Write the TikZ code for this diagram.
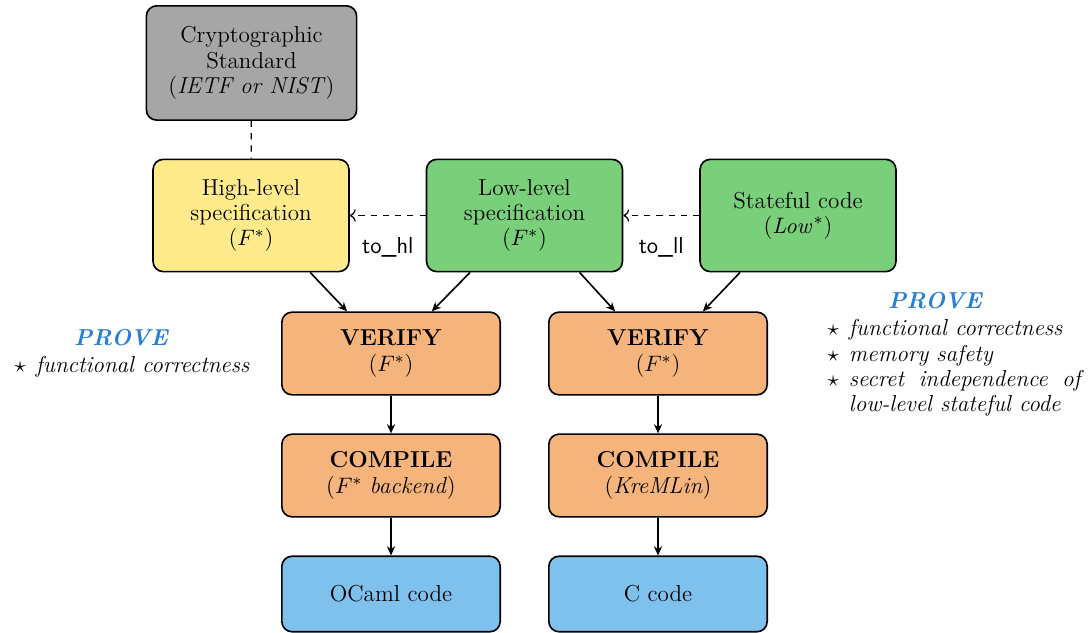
\documentclass[tikz,border=0pt]{standalone}
\usepackage{tikz}
\usetikzlibrary{positioning,arrows.meta}

\definecolor{stdgray}{HTML}{A6A6A6}
\definecolor{hlyellow}{HTML}{FFEB8C}
\definecolor{llgreen}{HTML}{7ACF7B}
\definecolor{toolorange}{HTML}{F4B47C}
\definecolor{codeblue}{HTML}{7EC1EC}
\definecolor{provecol}{HTML}{2A7FD4}

\newcommand{\diagfont}{\fontsize{11.3}{12.4}\selectfont}
\newenvironment{provelist}{\begin{list}{$\star$}{\setlength\leftmargin{14pt}\setlength\labelwidth{8pt}\setlength\labelsep{5pt}\setlength\itemsep{0pt}\setlength\parsep{0pt}\setlength\topsep{0pt}\setlength\partopsep{0pt}}}{\end{list}}

\begin{document}
\begin{tikzpicture}[x=0.49pt, y=-0.49pt,
	box/.style={draw, thick, rounded corners=5pt, align=center, inner sep=2pt, font=\diagfont},
	spec/.style={box, minimum width=96pt, minimum height=55pt},
	tool/.style={box, fill=toolorange, minimum width=107pt, minimum height=40.5pt},
	codebox/.style={box, fill=codeblue, minimum width=107pt, minimum height=37pt},
	flow/.style={-{Stealth[length=4.5pt, width=4pt]}, thick},
	conv/.style={->, semithick, dashed},
	provetitle/.style={text=provecol, font=\diagfont\bfseries\itshape},
	provetext/.style={inner sep=0pt, anchor=north west, align=justify, font=\diagfont\itshape}]
	\useasboundingbox (0,0) rectangle (1089,633);

	% Specs
	\node [box, fill=stdgray, minimum width=103pt, minimum height=56pt] (std) at (251.5,63) {Cryptographic\\Standard\\(\textit{IETF or NIST})};
	\node [spec, fill=hlyellow] (hl) at (251,215.5) {High-level\\specification\\($F^*$)};
	\node [spec, fill=llgreen] (ll) at (524.5,215.5) {Low-level\\specification\\($F^*$)};
	\node [spec, fill=llgreen] (low) at (798,215.5) {Stateful code\\($\mathit{Low}^*$)};

	\draw [semithick, dashed] (std) -- (hl);
	\draw [conv] (ll) -- (hl) node[midway, below=7pt, font=\diagfont] {\textsf{to\_hl}};
	\draw [conv] (low) -- (ll) node[midway, below=7pt, font=\diagfont] {\textsf{to\_ll}};

	% Toolchains
	\node [tool] (verhl) at (391,353.5) {\textbf{VERIFY}\\($F^*$)};
	\node [tool] (verll) at (658,353.5) {\textbf{VERIFY}\\($F^*$)};
	\node [tool] (comphl) at (391,475.5) {\textbf{COMPILE}\\($F^*$ \textit{backend})};
	\node [tool] (compll) at (658,475.5) {\textbf{COMPILE}\\(\textit{KreMLin})};
	\node [codebox] (ocaml) at (391,594) {OCaml code};
	\node [codebox] (ccode) at (658,594) {C code};

	\draw [flow] ([xshift=29pt]hl.south) -- ([xshift=-21.5pt]verhl.north);
	\draw [flow] ([xshift=-26.7pt]ll.south) -- ([xshift=20pt]verhl.north);
	\draw [flow] ([xshift=27pt]ll.south) -- ([xshift=-21pt]verll.north);
	\draw [flow] ([xshift=-28.4pt]low.south) -- ([xshift=22pt]verll.north);
	\draw [flow] (verhl) -- (comphl);
	\draw [flow] (comphl) -- (ocaml);
	\draw [flow] (verll) -- (compll);
	\draw [flow] (compll) -- (ccode);

	% Proofs
	\node [provetitle] (provehl) at (121,338) {PROVE};
	\node [provetext, text width=130pt] (goalshl) at (7,347) {\begin{provelist}\item functional correctness\end{provelist}};
	\node [provetitle] (provell) at (935,301) {PROVE};
	\node [provetext, text width=127.5pt] (goalsll) at (820,310) {\begin{provelist}\item functional correctness \item memory safety \item secret independence of low-level stateful code\end{provelist}};
\end{tikzpicture}
\end{document}
